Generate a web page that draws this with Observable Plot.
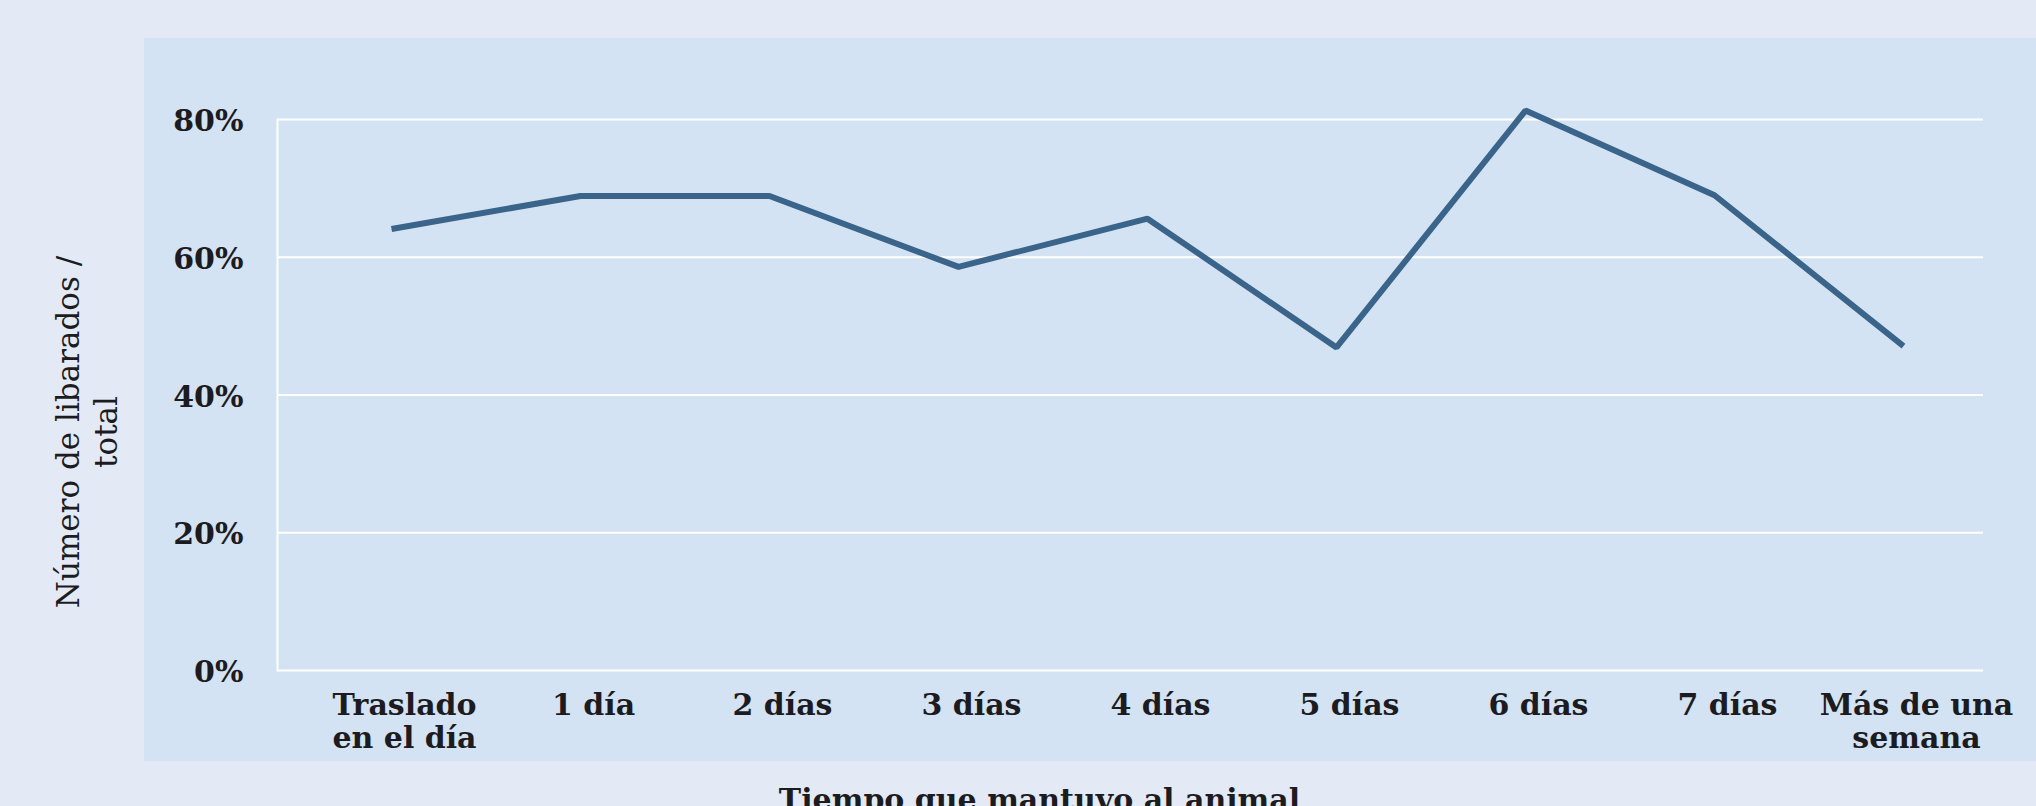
<!DOCTYPE html>
<html>
<head>
<meta charset="utf-8">
<script src="https://cdn.jsdelivr.net/npm/d3@7"></script>
<script src="https://cdn.jsdelivr.net/npm/@observablehq/plot@0.6"></script>
<style>
  html, body { margin: 0; padding: 0; background: #e3eaf6; }
  #wrap { position: relative; width: 2036px; height: 806px; overflow: hidden; background: #e3eaf6; }
  #panel { position: absolute; left: 144px; top: 38px; width: 1892px; height: 723px; background: #d3e3f3; }
  #chart { position: absolute; left: 0; top: 0; }
</style>
</head>
<body>
<div id="wrap"><div id="panel"></div><div id="chart"></div></div>
<script>
const categories = ["Traslado\nen el día", "1 día", "2 días", "3 días", "4 días", "5 días", "6 días", "7 días", "Más de una\nsemana"];
const values = [0.641, 0.689, 0.689, 0.586, 0.656, 0.469, 0.813, 0.690, 0.471];
const yTicks = [0, 0.2, 0.4, 0.6, 0.8];
const yTitle = "Número de libarados /\ntotal";
const xTitle = "Tiempo que mantuvo al animal";

const rows = categories.map((c, i) => ({cat: c, value: values[i]}));
const ink = "#1c1b1f";

const chart = Plot.plot({
  width: 2036,
  height: 806,
  marginLeft: 277,
  marginRight: 53,
  marginTop: 119,
  marginBottom: 136,
  style: {background: "transparent", fontFamily: "'DejaVu Serif', serif", color: ink, overflow: "visible"},
  x: {type: "point", domain: categories, range: [389, 1905], padding: 0},
  y: {domain: [0, 0.8]},
  marks: [
    Plot.ruleY(yTicks, {stroke: "#ffffff", strokeWidth: 2}),
    Plot.frame({anchor: "left", stroke: "#ffffff", strokeWidth: 2}),
    Plot.axisY({ticks: yTicks, tickFormat: d3.format(".0%"), tickSize: 0, tickPadding: 34, fontSize: 30, fontWeight: "bold", fill: ink, dy: 2, label: null}),
    Plot.axisX({tickSize: 0, tickPadding: 20, fontSize: 30, fontWeight: "bold", fill: ink, lineHeight: 1.13, dx: 13, label: null}),
    Plot.line(rows, {x: "cat", y: "value", stroke: "#3a6489", strokeWidth: 6, strokeLinejoin: "miter", strokeLinecap: "butt"}),
    Plot.text([yTitle], {frameAnchor: "left", textAnchor: "middle", rotate: -90, dx: -192, dy: 37, lineAnchor: "middle", lineHeight: 1.22, fontSize: 31, fill: ink}),
    Plot.text([xTitle], {frameAnchor: "bottom", textAnchor: "middle", dx: -91, dy: 118, lineAnchor: "top", fontSize: 30, fontWeight: "bold", fill: ink})
  ]
});
document.getElementById("chart").appendChild(chart);
</script>
</body>
</html>
